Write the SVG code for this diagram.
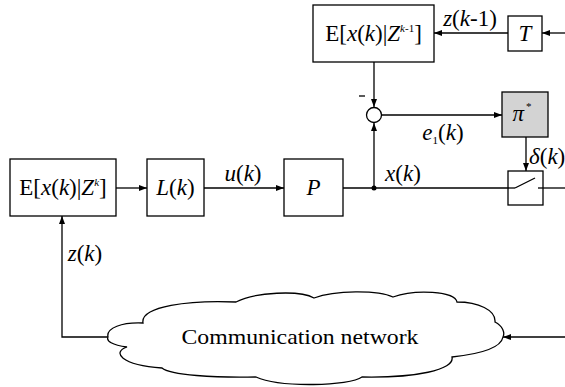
<svg xmlns="http://www.w3.org/2000/svg" width="565" height="387" viewBox="0 0 565 387">
  <style>
    .box { fill: #ffffff; stroke: #000000; stroke-width: 1.3; }
    .gray { fill: #d3d3d3; }
    .wire { fill: none; stroke: #000000; stroke-width: 1.3; }
    .arr { marker-end: url(#head); }
    .m { font-family: "Liberation Serif", serif; font-size: 23px; fill: #000000; }
    .i { font-style: italic; }
    .sup { font-size: 11px; }
    .plain { font-family: "Liberation Serif", serif; font-size: 22px; fill: #000000; }
  </style>
  <defs>
    <marker id="head" markerWidth="9" markerHeight="7" refX="8" refY="3" orient="auto" markerUnits="userSpaceOnUse">
      <path d="M0,0 L8,3 L0,6 Z" fill="#000000"/>
    </marker>
  </defs>

  <!-- connectors -->
  <g id="connectors">
    <line class="wire arr" x1="565" y1="33" x2="542" y2="33"/>
    <line class="wire arr" x1="508" y1="33" x2="434" y2="33"/>
    <line class="wire arr" x1="374" y1="62" x2="374" y2="107"/>
    <line class="wire arr" x1="374" y1="188" x2="374" y2="123"/>
    <line class="wire arr" x1="381.5" y1="115" x2="502" y2="115"/>
    <line class="wire arr" x1="526" y1="137" x2="526" y2="171"/>
    <line class="wire arr" x1="116" y1="188" x2="147" y2="188"/>
    <line class="wire arr" x1="204" y1="188" x2="284" y2="188"/>
    <line class="wire" x1="343" y1="188" x2="515" y2="188"/>
    <line class="wire" x1="538" y1="188" x2="565" y2="188"/>
    <circle cx="374" cy="188" r="2.5" fill="#000000"/>
    <line class="wire arr" x1="565" y1="337" x2="503" y2="337"/>
    <polyline class="wire arr" points="108,337 62,337 62,216"/>
  </g>

  <!-- estimator with previous measurements -->
  <g id="estimator-prev">
    <rect class="box" x="313" y="5" width="121" height="57"/>
    <text class="m" x="373.5" y="41" text-anchor="middle">E[<tspan class="i">x</tspan>(<tspan class="i">k</tspan>)|<tspan class="i">Z</tspan><tspan class="sup" dy="-9"><tspan class="i">k</tspan>-1</tspan><tspan dy="9">]</tspan></text>
  </g>

  <!-- delay -->
  <g id="delay">
    <rect class="box" x="508" y="16" width="34" height="35"/>
    <text class="m i" x="525" y="41" text-anchor="middle">T</text>
  </g>

  <!-- comparison junction -->
  <g id="sum">
    <circle class="box" cx="374" cy="115" r="7.5"/>
    <line class="wire" x1="359" y1="96" x2="365" y2="96"/>
  </g>

  <!-- trigger policy -->
  <g id="policy">
    <rect class="box gray" x="502" y="92" width="46" height="45"/>
    <text class="m" x="522" y="121" text-anchor="middle"><tspan class="i">π</tspan><tspan class="sup" dx="2" dy="-11">*</tspan></text>
  </g>

  <!-- estimator with current measurements -->
  <g id="estimator">
    <rect class="box" x="10" y="159" width="106" height="57"/>
    <text class="m" x="63" y="195" text-anchor="middle">E[<tspan class="i">x</tspan>(<tspan class="i">k</tspan>)|<tspan class="i">Z</tspan><tspan class="sup i" dy="-9">k</tspan><tspan dy="9">]</tspan></text>
  </g>

  <!-- controller gain -->
  <g id="gain">
    <rect class="box" x="147" y="159" width="57" height="57"/>
    <text class="m" x="175.5" y="195" text-anchor="middle"><tspan class="i">L</tspan>(<tspan class="i">k</tspan>)</text>
  </g>

  <!-- plant -->
  <g id="plant">
    <rect class="box" x="284" y="159" width="59" height="57"/>
    <text class="m i" x="313.5" y="195" text-anchor="middle">P</text>
  </g>

  <!-- switch -->
  <g id="switch">
    <rect class="box" x="508" y="171" width="35" height="34"/>
    <line class="wire" x1="515" y1="188" x2="535" y2="178"/>
    <line class="wire" x1="508" y1="188" x2="515" y2="188"/>
    <line class="wire" x1="538" y1="188" x2="543" y2="188"/>
  </g>

  <!-- network -->
  <g id="network">
    <path class="box" d="M108,337 C106,328 122,322 143,323 C140,306 190,300 236,302 C255,292 300,290 314,298 C335,290 378,290 393,297 C415,289 455,291 457,302 C478,302 496,310 495,322 C503,326 505,333 503,337 C501,348 480,354 452,357 C455,370 415,378 362,377 C350,386 280,388 256,377 C215,378 170,375 162,368 C120,365 112,352 127,347 C112,345 106,341 108,337 Z"/>
    <text class="plain" x="300" y="344" text-anchor="middle" textLength="237" lengthAdjust="spacingAndGlyphs">Communication network</text>
  </g>

  <!-- signal labels -->
  <g id="labels">
    <text class="m" x="470" y="26" text-anchor="middle"><tspan class="i">z</tspan>(<tspan class="i">k</tspan>-1)</text>
    <text class="m" x="443" y="140" text-anchor="middle"><tspan class="i">e</tspan><tspan class="sup" dy="4">1</tspan><tspan dy="-4">(</tspan><tspan class="i">k</tspan>)</text>
    <text class="m" x="529" y="164" font-size="21"><tspan class="i">δ</tspan>(<tspan class="i">k</tspan>)</text>
    <text class="m" x="243" y="181" text-anchor="middle"><tspan class="i">u</tspan>(<tspan class="i">k</tspan>)</text>
    <text class="m" x="403" y="181" text-anchor="middle"><tspan class="i">x</tspan>(<tspan class="i">k</tspan>)</text>
    <text class="m" x="85" y="261" text-anchor="middle"><tspan class="i">z</tspan>(<tspan class="i">k</tspan>)</text>
  </g>
</svg>
